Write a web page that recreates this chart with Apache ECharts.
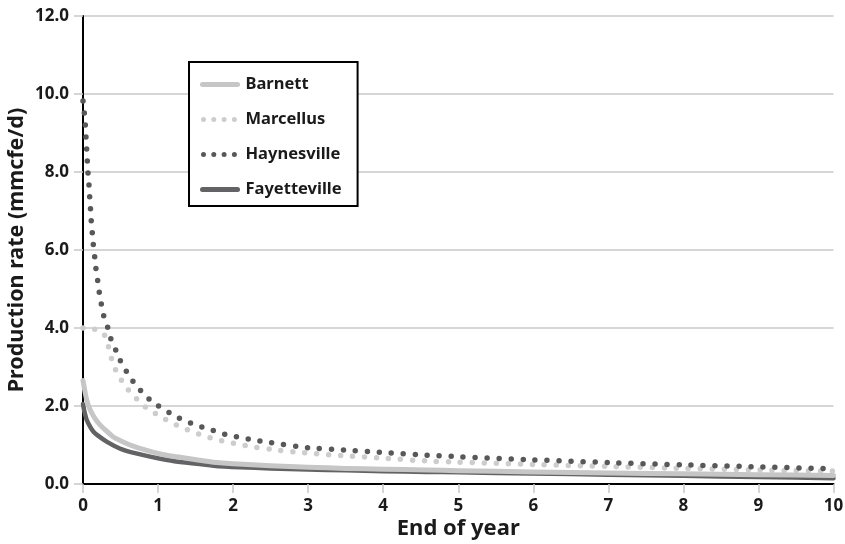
<!DOCTYPE html>
<html>
<head>
<meta charset="utf-8">
<script src="https://cdn.jsdelivr.net/npm/echarts@6/dist/echarts.min.js"></script>
<style>
html,body{margin:0;padding:0;background:#fff;}
#chart{width:845px;height:544px;}
</style>
</head>
<body>
<div id="chart"></div>
<script>
// ---- Data ----
const seriesNames = ['Barnett', 'Marcellus', 'Haynesville', 'Fayetteville'];

const barnettX = [0, 0.01, 0.03, 0.05, 0.08, 0.12, 0.17, 0.23, 0.3, 0.4, 0.5, 0.67, 0.85, 1.03, 1.2, 1.38, 1.55, 1.74, 2.0, 2.5, 3, 3.5, 4, 4.58, 5, 6, 7, 8, 9, 10];
const barnettY = [2.65, 2.55, 2.33, 2.15, 1.97, 1.81, 1.65, 1.51, 1.38, 1.21, 1.11, 0.97, 0.86, 0.77, 0.71, 0.66, 0.61, 0.56, 0.52, 0.47, 0.43, 0.40, 0.38, 0.36, 0.34, 0.31, 0.28, 0.26, 0.24, 0.22];

const marcellusX = [0, 0.05, 0.1, 0.15, 0.2, 0.25, 0.28, 0.31, 0.35, 0.39, 0.45, 0.53, 0.63, 0.74, 0.86, 1.0, 1.13, 1.28, 1.43, 1.58, 1.74, 1.89, 2.05, 2.21, 2.5, 3, 3.5, 4, 4.58, 5, 6, 7, 8, 9, 10];
const marcellusY = [4.0, 4.0, 3.99, 3.97, 3.94, 3.9, 3.84, 3.72, 3.44, 3.15, 2.86, 2.61, 2.35, 2.14, 1.93, 1.77, 1.62, 1.48, 1.36, 1.26, 1.16, 1.09, 1.03, 0.97, 0.89, 0.79, 0.72, 0.66, 0.59, 0.56, 0.50, 0.45, 0.40, 0.36, 0.33];

const haynesvilleX = [0, 0.018, 0.031, 0.04, 0.049, 0.058, 0.067, 0.08, 0.089, 0.1, 0.11, 0.124, 0.137, 0.156, 0.173, 0.196, 0.217, 0.244, 0.276, 0.33, 0.37, 0.44, 0.5, 0.58, 0.67, 0.77, 0.88, 1.0, 1.15, 1.29, 1.44, 1.6, 1.74, 1.9, 2.05, 2.21, 2.5, 3, 3.5, 4, 4.58, 5, 6, 7, 8, 9, 10];
const haynesvilleY = [9.82, 9.5, 9.2, 8.89, 8.58, 8.27, 7.97, 7.66, 7.36, 7.05, 6.74, 6.43, 6.14, 5.82, 5.51, 5.21, 4.91, 4.61, 4.31, 4.01, 3.73, 3.42, 3.15, 2.88, 2.62, 2.39, 2.18, 2.01, 1.83, 1.68, 1.56, 1.45, 1.37, 1.27, 1.21, 1.15, 1.06, 0.93, 0.87, 0.81, 0.74, 0.70, 0.62, 0.55, 0.49, 0.44, 0.39];

const fayettevilleX = [0, 0.02, 0.05, 0.1, 0.14, 0.2, 0.32, 0.49, 0.65, 0.85, 1.0, 1.2, 1.45, 1.74, 2.09, 2.5, 3, 3.5, 4, 4.58, 5, 6, 7, 8, 9, 10];
const fayettevilleY = [2.05, 1.85, 1.64, 1.45, 1.34, 1.24, 1.08, 0.91, 0.81, 0.72, 0.66, 0.59, 0.53, 0.47, 0.43, 0.40, 0.37, 0.35, 0.33, 0.31, 0.30, 0.27, 0.24, 0.21, 0.18, 0.15];

const xTicks = [0, 1, 2, 3, 4, 5, 6, 7, 8, 9, 10];
const yTicks = [0, 2, 4, 6, 8, 10, 12];

// ---- Chart ----
const FONT = '"Noto Sans", "DejaVu Sans", sans-serif';
const TXT = '#1a1a1a';
const C_BARNETT = '#c6c6c6', C_MARC = '#cdcdcd', C_HAYN = '#58585a', C_FAY = '#636365';
const pairs = (xs, ys) => xs.map((x, i) => [x, ys[i]]);

const chart = echarts.init(document.getElementById('chart'), null, {renderer: 'canvas'});
chart.setOption({
  animation: false,
  backgroundColor: '#ffffff',
  grid: {left: 83, right: 11.5, top: 16, bottom: 60, containLabel: false, outerBoundsMode: 'none'},
  legend: {
    left: 189, top: 62,
    orient: 'vertical',
    padding: [14, 16, 8, 11],
    itemGap: 18,
    itemWidth: 35,
    itemHeight: 14,
    borderColor: '#000',
    borderWidth: 2,
    backgroundColor: '#fff',
    itemStyle: {opacity: 0},
    textStyle: {fontFamily: FONT, fontWeight: 'bold', fontSize: 16.5, color: TXT, padding: [0, 0, 0, 3]},
    data: [
      {name: 'Barnett', lineStyle: {color: C_BARNETT, width: 5, cap: 'round', type: 'solid'}},
      {name: 'Marcellus', lineStyle: {color: C_MARC, width: 5, type: [0, 10.3], dashOffset: -1, cap: 'round'}},
      {name: 'Haynesville', lineStyle: {color: C_HAYN, width: 5, type: [0, 10.3], dashOffset: -1, cap: 'round'}},
      {name: 'Fayetteville', lineStyle: {color: C_FAY, width: 5, cap: 'round', type: 'solid'}}
    ]
  },
  xAxis: {
    type: 'value', min: xTicks[0], max: xTicks[xTicks.length - 1], interval: 1,
    name: 'End of year', nameLocation: 'middle', nameGap: 34, nameMoveOverlap: false,
    nameTextStyle: {fontFamily: FONT, fontWeight: 'bold', fontSize: 22, color: TXT},
    axisLine: {show: true, lineStyle: {color: '#000', width: 2}},
    axisTick: {show: true, length: 9, lineStyle: {color: '#c8c8c8', width: 1.5}},
    axisLabel: {fontFamily: FONT, fontWeight: 'bold', fontSize: 17, color: TXT, margin: 14},
    splitLine: {show: false}
  },
  yAxis: {
    type: 'value', min: yTicks[0], max: yTicks[yTicks.length - 1], interval: 2,
    name: 'Production rate (mmcfe/d)', nameLocation: 'middle', nameGap: 55, nameRotate: 90,
    nameMoveOverlap: false,
    nameTextStyle: {fontFamily: FONT, fontWeight: 'bold', fontSize: 21.5, color: TXT},
    axisLine: {show: true, lineStyle: {color: '#000', width: 2}},
    axisTick: {show: true, length: 9, lineStyle: {color: '#c8c8c8', width: 1.5}},
    axisLabel: {fontFamily: FONT, fontWeight: 'bold', fontSize: 17, color: TXT, margin: 14,
      formatter: v => v.toFixed(1)},
    splitLine: {show: true, lineStyle: {color: '#c8c8c8', width: 1.5}}
  },
  series: [
    {
      name: 'Barnett', type: 'line', z: 4, symbol: 'none', showSymbol: false,
      data: pairs(barnettX, barnettY), smooth: 0.2,
      lineStyle: {color: C_BARNETT, width: 5, cap: 'round', join: 'round'},
      itemStyle: {color: C_BARNETT}
    },
    {
      name: 'Marcellus', type: 'line', z: 2, symbol: 'none', showSymbol: false,
      data: pairs(marcellusX, marcellusY), smooth: 0.2,
      lineStyle: {color: C_MARC, width: 5.5, type: [0, 12], cap: 'round', join: 'round'},
      itemStyle: {color: C_MARC}
    },
    {
      name: 'Haynesville', type: 'line', z: 5, symbol: 'none', showSymbol: false,
      data: pairs(haynesvilleX, haynesvilleY), smooth: 0.2,
      lineStyle: {color: C_HAYN, width: 5.5, type: [0, 12], cap: 'round', join: 'round'},
      itemStyle: {color: C_HAYN}
    },
    {
      name: 'Fayetteville', type: 'line', z: 3, symbol: 'none', showSymbol: false,
      data: pairs(fayettevilleX, fayettevilleY), smooth: 0.2,
      lineStyle: {color: C_FAY, width: 4.5, cap: 'round', join: 'round'},
      itemStyle: {color: C_FAY}
    }
  ]
});
</script>
</body>
</html>
